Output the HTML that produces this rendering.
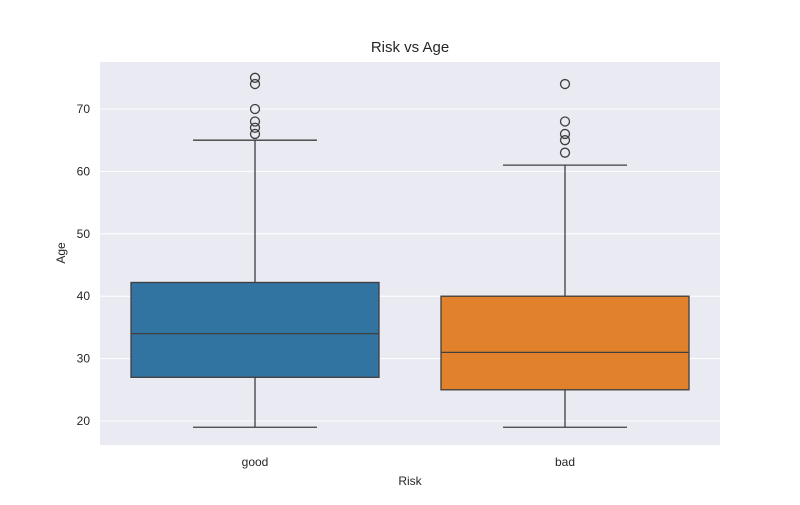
<!DOCTYPE html>
<html><head><meta charset="utf-8"><style>
body{margin:0;background:#fff;font-family:"Liberation Sans",sans-serif}
svg text{font-family:"Liberation Sans",sans-serif;fill:#262626}
</style></head><body>
<svg width="800" height="500" id="chart">
<rect x="100" y="62" width="620" height="383" fill="#eaeaf2"/>
<text x="410" y="52" text-anchor="middle" font-size="15">Risk vs Age</text>
<text x="410" y="485" text-anchor="middle" font-size="12">Risk</text>
<text transform="translate(65,253) rotate(-90)" text-anchor="middle" font-size="12">Age</text>
<g id="grid"></g><g id="boxes"></g>
</svg>
<script>
const categories=["good","bad"];
const colors=["#3274a1","#e1812c"];
const q1=[27,25], med=[34,31], q3=[42.2,40], whiskLo=[19,19], whiskHi=[65,61];
const outliers=[[75,74,70,68,67,66],[74,68,66,65,63]];
const yTicks=[20,30,40,50,60,70];
const NS="http://www.w3.org/2000/svg";
const y=v=>421-(v-20)*6.24;
const x=i=>100+310*(i+0.5);
function mk(t,a,p){const e=document.createElementNS(NS,t);for(const k in a)e.setAttribute(k,a[k]);p.appendChild(e);return e;}
const g=document.getElementById('grid'),b=document.getElementById('boxes');
yTicks.forEach(t=>{
 const l=mk('line',{x1:100,x2:720,y1:y(t),y2:y(t),stroke:'#fff','stroke-width':1},g);
 
 
 const tx=mk('text',{x:90,y:y(t)+4,'text-anchor':'end','font-size':12},g);tx.textContent=t;
 
 
});
categories.forEach((c,i)=>{
 const cx=x(i),w=248,s='#3f3f3f';
 const grp=mk('g',{},b);
 
 
 mk('line',{x1:cx,x2:cx,y1:y(q1[i]),y2:y(whiskLo[i]),stroke:s,'stroke-width':1.3},grp);
 mk('line',{x1:cx,x2:cx,y1:y(q3[i]),y2:y(whiskHi[i]),stroke:s,'stroke-width':1.3},grp);
 mk('line',{x1:cx-62,x2:cx+62,y1:y(whiskLo[i]),y2:y(whiskLo[i]),stroke:s,'stroke-width':1.3},grp);
 mk('line',{x1:cx-62,x2:cx+62,y1:y(whiskHi[i]),y2:y(whiskHi[i]),stroke:s,'stroke-width':1.3},grp);
 mk('rect',{x:cx-w/2,y:y(q3[i]),width:w,height:y(q1[i])-y(q3[i]),fill:colors[i],stroke:s,'stroke-width':1.3},grp);
 mk('line',{x1:cx-w/2,x2:cx+w/2,y1:y(med[i]),y2:y(med[i]),stroke:s,'stroke-width':1.3},grp);
 outliers[i].forEach(o=>{
  const ci=mk('circle',{cx:cx,cy:y(o),r:4.5,fill:'none',stroke:s,'stroke-width':1.3},grp);
  
  
 });
 const tx=mk('text',{x:cx,y:466,'text-anchor':'middle','font-size':12},b);tx.textContent=c;
 
 
});
</script>
</body></html>
